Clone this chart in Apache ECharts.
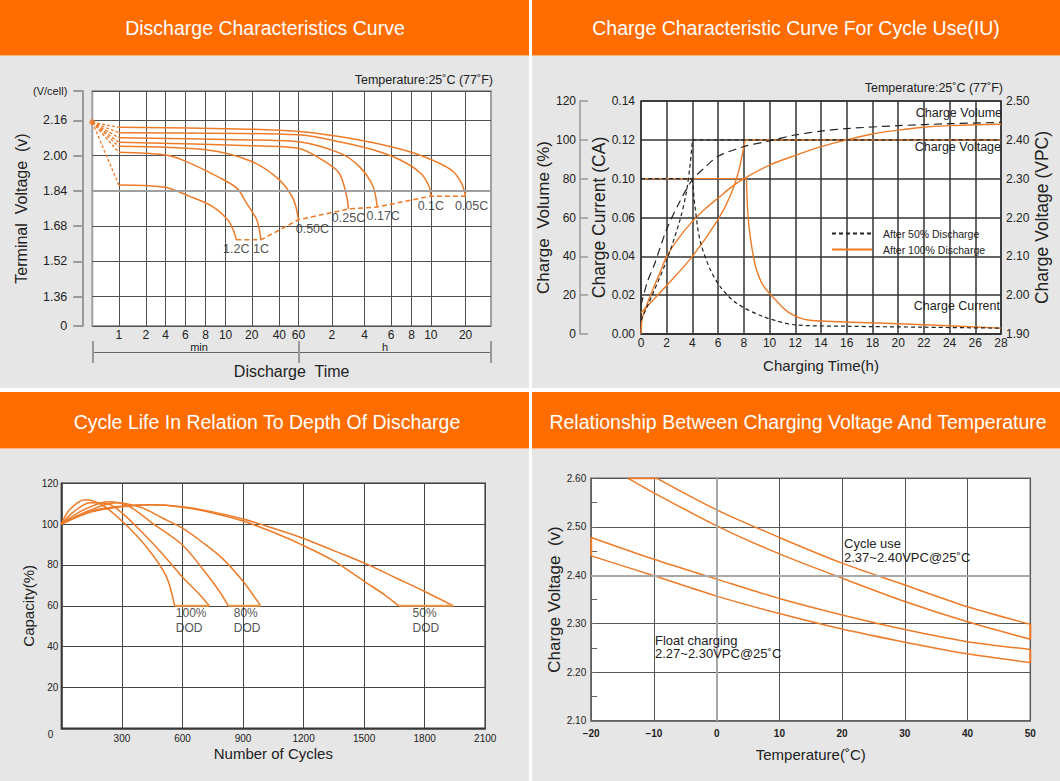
<!DOCTYPE html>
<html><head><meta charset="utf-8">
<script src="https://cdn.jsdelivr.net/npm/echarts@6/dist/echarts.min.js"></script>
<style>html,body{margin:0;padding:0;background:#e6e6e6}#c{width:1060px;height:781px}</style>
</head><body><div id="c"></div><script>
// ---------------- Panel 1: Discharge characteristics ----------------
const timeTickMinutes = [0,1,2,4,6,8,10,20,40,60,120,240,360,480,600,1200];
const timeTickLabels  = ['','1','2','4','6','8','10','20','40','60','2','4','6','8','10','20'];
const timeScaleUnits  = [0,1.00,2.02,2.77,3.51,4.28,5.03,6.02,7.06,7.78,9.04,10.28,11.28,12.05,12.78,14.09];
const timeScaleMax = 15.05;
const timeGroupLabels = ['min','h'];
const timeGroupUnits = [4.03, 11.05];
const timeGroupBounds = [0, 7.78, 15.05];
const voltTickValues = [1.2272,1.36,1.52,1.68,1.84,2.00,2.16,2.2928];
const voltTickLabels = ['0','1.36','1.52','1.68','1.84','2.00','2.16','(V/cell)'];
const dischargeRates = ['1.2C','1C','0.50C','0.25C','0.17C','0.1C','0.05C'];
const dischargeOrigin = [0, 2.151];
// [minutes, volts]
const d12C  = [[1,1.867],[3.8,1.857],[6.5,1.814],[8.7,1.769],[10.8,1.709],[13,1.66],[14.1,1.618]];
const d1C   = [[1,2.015],[4,2.003],[6,1.975],[9.4,1.90],[14.5,1.85],[18,1.784],[23.6,1.709],[26.7,1.618]];
const d050C = [[1,2.042],[8,2.026],[20,1.973],[40,1.89],[55,1.799],[60,1.709]];
const d025C = [[1,2.060],[20,2.045],[60,2.033],[103,1.98],[147,1.92],[172,1.829],[181,1.758]];
const d017C = [[1,2.081],[15,2.072],[60,2.063],[150,2.011],[221,1.95],[278,1.86],[297,1.767]];
const d01C  = [[1,2.104],[60,2.094],[147,2.063],[278,2.026],[414,1.98],[537,1.92],[589,1.86],[600,1.816]];
const d005C = [[1,2.128],[15,2.121],[60,2.109],[147,2.086],[355,2.041],[558,1.995],[952,1.935],[1129,1.875],[1200,1.816]];
const dischargeLabelShift = [[0,0],[0,0],[14,0],[0,0],[6,0],[0,0],[6,0]];

// ---------------- Panel 2: Charge characteristic ----------------
const currentTickValues = [0,0.02,0.04,0.06,0.10,0.12,0.14];
const currentTickLabels = ['0.00','0.02','0.04','0.06','0.10','0.12','0.14'];
const currentTickIndex  = [0,1,2,3,4,5,6];
// [hours, value]
const vol50  = [[0,15],[0.5,27],[1,35],[2,54],[3,68],[4,79.5],[5,86],[6,91.5],[8,96.5],[10,99.5],[12,102.5],[14,104.5],[16,105.8],[20,107.3],[24,108.3],[28,109]];
const volt50 = [[0,1.935],[1,2.01],[2,2.09],[3,2.19],[3.5,2.26],[3.8,2.33],[4,2.40],[28,2.40]];
const cur50  = [[0,0.10],[4,0.10],[4.2,0.071],[4.6,0.048],[5.4,0.033],[6.2,0.024],[7.4,0.016],[9.5,0.009],[12,0.0047],[16,0.004],[22,0.0035],[28,0.003]];
const vol100  = [[0,0],[0.1,8],[0.4,14],[0.8,21],[1.5,32],[2,40],[3,50],[4,58],[5,64.5],[6,70],[7,75.5],[8,80],[10,87],[12,92],[14,96.5],[16,100],[18,103],[20,105],[22,106.5],[24,107.3],[26,107.8],[28,108]];
const volt100 = [[0,1.955],[2,2.025],[4,2.10],[6,2.195],[7,2.26],[7.6,2.32],[8.1,2.40],[28,2.40]];
const cur100  = [[0,0.10],[8.2,0.10],[8.3,0.066],[8.5,0.05],[8.9,0.035],[9.5,0.025],[10.4,0.018],[11.5,0.011],[13,0.0072],[18,0.0058],[23,0.0045],[28,0.003]];
const legendNames = ['After 50% Discharge','After 100% Discharge'];

// ---------------- Panel 3: Cycle life ----------------
// [cycles, capacity %]
const cyc100a = [[0,100],[40,107],[116,112],[200,109.5],[300,101.5],[420,89],[520,74.3],[561,60]];
const cyc100b = [[0,100],[60,106],[140,110.5],[230,110],[300,105.5],[400,96],[500,85.5],[600,74],[680,66],[733,60]];
const cyc80a  = [[0,100],[100,106.5],[230,111],[330,109],[450,100.5],[600,89.8],[700,78],[780,67.5],[827,60]];
const cyc80b  = [[0,100],[120,106],[270,110.5],[400,108],[500,103],[600,98],[700,91],[800,83],[900,72],[987,60]];
const cyc50a  = [[0,100],[150,106.5],[300,108.8],[450,109.5],[600,108.3],[750,105.5],[900,101.5],[1050,96],[1200,89.5],[1350,82],[1500,72],[1600,65.5],[1671,60]];
const cyc50b  = [[0,100],[150,106],[300,108.5],[450,109.5],[600,108.5],[750,106],[900,102.5],[1050,98],[1200,93],[1350,87],[1500,81],[1650,74],[1800,67],[1942,60]];
const dodLabels = ['100%\nDOD','80%\nDOD','50%\nDOD'];
const dodLabelAnchor = [[567,60],[854,60],[1740,60]];

// ---------------- Panel 4: Charging voltage vs temperature ----------------
// [°C, V]
const cycleUpper = [[-9.5,2.60],[0,2.535],[10,2.478],[20,2.425],[30,2.38],[40,2.335],[50,2.299]];
const cycleLower = [[-14.1,2.60],[-10,2.57],[0,2.502],[10,2.444],[20,2.394],[30,2.346],[40,2.304],[50,2.268]];
const floatUpper = [[-20,2.478],[-10,2.433],[0,2.392],[10,2.352],[20,2.318],[30,2.288],[40,2.263],[50,2.247]];
const floatLower = [[-20,2.44],[-10,2.399],[0,2.357],[10,2.321],[20,2.289],[30,2.262],[40,2.238],[50,2.22]];

// ---------------- helpers ----------------
function interp(x, xs, ys) {
  const n = xs.length;
  if (x <= xs[0]) return ys[0];
  for (let i = 0; i < n - 1; i++) {
    if (x <= xs[i + 1]) return ys[i] + (x - xs[i]) / (xs[i + 1] - xs[i]) * (ys[i + 1] - ys[i]);
  }
  const i = n - 2;
  return ys[i] + (x - xs[i]) / (xs[i + 1] - xs[i]) * (ys[i + 1] - ys[i]);
}
function nearestIndex(v, arr) {
  let b = 0;
  for (let i = 1; i < arr.length; i++) if (Math.abs(arr[i] - v) < Math.abs(arr[b] - v)) b = i;
  return b;
}
const tMap = m => interp(m, timeTickMinutes, timeScaleUnits);
const cMap = v => interp(v, currentTickValues, currentTickIndex);
const last = a => a[a.length - 1];

const FONT = '"Liberation Sans", Arial, Helvetica, sans-serif';
const ORANGE = '#ee7b28';
const TXT = '#222';
const SMOOTH = 0.3;

const series = [];
// Panel 1
const dischargeSets = [d12C, d1C, d050C, d025C, d017C, d01C, d005C];
series.push({type:'line', xAxisIndex:0, yAxisIndex:0, data:[], z:1, silent:true,
  markLine:{silent:true, symbol:'none', label:{show:false}, animation:false,
    lineStyle:{color:'#a0a0a0', width:2, type:'solid'}, data:[{yAxis:1.84}]}});
dischargeSets.forEach(arr => {
  series.push({type:'line', xAxisIndex:0, yAxisIndex:0, symbol:'none', smooth:SMOOTH, z:3,
    lineStyle:{color:ORANGE, width:1.5}, data:arr.map(p => [tMap(p[0]), p[1]])});
  series.push({type:'line', xAxisIndex:0, yAxisIndex:0, symbol:'none', z:3,
    lineStyle:{color:ORANGE, width:1.3, type:[3,2]},
    data:[[tMap(dischargeOrigin[0]), dischargeOrigin[1]], [tMap(arr[0][0]), arr[0][1]]]});
});
series.push({type:'line', xAxisIndex:0, yAxisIndex:0, symbol:'none', z:3,
  lineStyle:{color:ORANGE, width:1.5, type:[5,3]},
  data:dischargeSets.map(a => [tMap(last(a)[0]), last(a)[1]])});
series.push({type:'scatter', xAxisIndex:0, yAxisIndex:0, symbolSize:6, z:4, itemStyle:{color:ORANGE},
  data:[[tMap(dischargeOrigin[0]), dischargeOrigin[1]]]});
series.push({type:'scatter', xAxisIndex:0, yAxisIndex:0, symbolSize:0, z:5, silent:true,
  data:dischargeSets.map((a, i) => ({value:[tMap(last(a)[0]), last(a)[1]],
    label:{show:true, position:'bottom', distance:3, offset:dischargeLabelShift[i], formatter:dischargeRates[i],
      fontSize:12.5, color:TXT, fontFamily:FONT}}))});

// Panel 2 (curves with a sharp corner are drawn as a smooth piece + straight piece)
function addLine(opts, data, cornerIdx) {
  if (cornerIdx == null) { series.push(Object.assign({data:data, smooth:SMOOTH}, opts)); return; }
  const a = data.slice(0, cornerIdx + 1), b = data.slice(cornerIdx);
  series.push(Object.assign({data:a, smooth:a.length > 2 ? SMOOTH : false}, opts));
  series.push(Object.assign({data:b, smooth:b.length > 2 ? SMOOTH : false}, opts));
}
const base2 = {type:'line', xAxisIndex:3, symbol:'none'};
const blackStyle = {color:'#222', width:1.2};
addLine(Object.assign({name:legendNames[0], yAxisIndex:3, z:4, lineStyle:Object.assign({type:[4,3]}, blackStyle), itemStyle:{color:'#222'}}, base2), volt50, 6);
addLine(Object.assign({name:legendNames[0], yAxisIndex:1, z:4, lineStyle:Object.assign({type:[8,5]}, blackStyle), itemStyle:{color:'#222'}}, base2), vol50);
addLine(Object.assign({name:legendNames[0], yAxisIndex:2, z:4, lineStyle:Object.assign({type:[4,3]}, blackStyle), itemStyle:{color:'#222'}}, base2), cur50.map(p => [p[0], cMap(p[1])]), 1);
addLine(Object.assign({name:legendNames[1], yAxisIndex:1, z:3, lineStyle:{color:ORANGE, width:1.4}, itemStyle:{color:ORANGE}}, base2), vol100);
addLine(Object.assign({name:legendNames[1], yAxisIndex:3, z:3, lineStyle:{color:ORANGE, width:1.4}, itemStyle:{color:ORANGE}}, base2), volt100, 6);
addLine(Object.assign({name:legendNames[1], yAxisIndex:2, z:3, lineStyle:{color:ORANGE, width:1.4}, itemStyle:{color:ORANGE}}, base2), cur100.map(p => [p[0], cMap(p[1])]), 1);

// Panel 3
const cycleSets = [cyc100a, cyc100b, cyc80a, cyc80b, cyc50a, cyc50b];
cycleSets.forEach(arr => series.push({type:'line', xAxisIndex:4, yAxisIndex:4, symbol:'none', smooth:SMOOTH,
  lineStyle:{color:ORANGE, width:1.5}, data:arr}));
for (let k = 0; k < 3; k++) {
  series.push({type:'line', xAxisIndex:4, yAxisIndex:4, symbol:'none', lineStyle:{color:'#f59a45', width:2},
    data:[last(cycleSets[2*k]), last(cycleSets[2*k+1])]});
}
series.push({type:'scatter', xAxisIndex:4, yAxisIndex:4, symbolSize:0, silent:true, z:5,
  data:dodLabelAnchor.map((p, i) => ({value:p, label:{show:true, position:[0,0], align:'left', verticalAlign:'top',
    formatter:dodLabels[i], fontSize:12, lineHeight:15, color:TXT, fontFamily:FONT}}))});

// Panel 4
series.push({type:'line', xAxisIndex:5, yAxisIndex:5, data:[], z:1, silent:true,
  markLine:{silent:true, symbol:'none', label:{show:false}, animation:false,
    lineStyle:{color:'#a8a8a8', width:2, type:'solid'}, data:[{yAxis:2.40},{xAxis:0}]}});
[cycleUpper, cycleLower, floatUpper, floatLower].forEach(arr => series.push({type:'line', xAxisIndex:5, yAxisIndex:5,
  symbol:'none', smooth:SMOOTH, lineStyle:{color:ORANGE, width:1.5}, data:arr}));
[[cycleLower[0], cycleUpper[0]], [last(cycleLower), last(cycleUpper)], [floatLower[0], floatUpper[0]], [last(floatLower), last(floatUpper)]]
  .forEach(seg => series.push({type:'line', xAxisIndex:5, yAxisIndex:5, symbol:'none', lineStyle:{color:ORANGE, width:2}, data:seg}));

// ---------------- axes ----------------
const axisText = {color:TXT, fontFamily:FONT};
const xAxis = [
  {gridIndex:0, type:'value', min:0, max:timeScaleMax,
    axisLine:{show:false, onZero:false}, axisTick:{show:false, customValues:timeScaleUnits.slice(1)},
    axisLabel:Object.assign({customValues:timeScaleUnits.slice(1), margin:3, fontSize:12, lineHeight:12,
      formatter:v => timeTickLabels[nearestIndex(v, timeScaleUnits)]}, axisText),
    splitLine:{show:true, lineStyle:{color:'#505050', width:1}},
    name:'Discharge  Time', nameLocation:'middle', nameGap:37, nameTextStyle:Object.assign({fontSize:16}, axisText)},
  {gridIndex:0, type:'value', min:0, max:timeScaleMax, position:'bottom', offset:26,
    axisLine:{show:true, onZero:false, lineStyle:{color:'#666', width:1}},
    axisTick:{show:true, inside:true, length:11, customValues:timeGroupBounds, lineStyle:{color:'#999', width:2}},
    axisLabel:Object.assign({show:true, inside:true, margin:0, fontSize:11, lineHeight:11, customValues:timeGroupUnits,
      formatter:v => timeGroupLabels[nearestIndex(v, timeGroupUnits)]}, axisText),
    splitLine:{show:false}},
  {gridIndex:0, type:'value', min:0, max:timeScaleMax, position:'bottom', offset:26,
    axisLine:{show:false, onZero:false},
    axisTick:{show:true, inside:false, length:11, customValues:timeGroupBounds, lineStyle:{color:'#999', width:2}},
    axisLabel:{show:false}, splitLine:{show:false}},
  {gridIndex:1, type:'value', min:0, max:28, interval:2,
    axisLine:{show:true, onZero:false, lineStyle:{color:'#333', width:1.5}}, axisTick:{show:false},
    axisLabel:Object.assign({margin:3, fontSize:12}, axisText),
    splitLine:{show:true, lineStyle:{color:'#333', width:1.5}},
    name:'Charging Time(h)', nameLocation:'middle', nameGap:24, nameTextStyle:Object.assign({fontSize:15}, axisText)},
  {gridIndex:2, type:'value', min:0, max:2100, interval:300,
    axisLine:{show:true, onZero:false, lineStyle:{color:'#333', width:1.5}}, axisTick:{show:false},
    axisLabel:Object.assign({margin:5, fontSize:10, formatter:v => v === 0 ? '' : String(v)}, axisText),
    splitLine:{show:true, lineStyle:{color:'#444', width:1}},
    name:'Number of Cycles', nameLocation:'middle', nameGap:18, nameTextStyle:Object.assign({fontSize:15}, axisText)},
  {gridIndex:3, type:'value', min:-20, max:50, interval:10,
    axisLine:{show:true, onZero:false, lineStyle:{color:'#666', width:1.5}}, axisTick:{show:false},
    axisLabel:Object.assign({margin:8, fontSize:10, fontWeight:'bold', formatter:v => v < 0 ? '\u2212' + (-v) : String(v)}, axisText),
    splitLine:{show:true, lineStyle:{color:'#555', width:1}},
    name:'Temperature(\u02DAC)', nameLocation:'middle', nameGap:26, nameTextStyle:Object.assign({fontSize:15}, axisText)}
];
const yAxis = [
  {gridIndex:0, type:'value', min:voltTickValues[0], max:last(voltTickValues), position:'left', offset:10,
    axisLine:{show:true, onZero:false, lineStyle:{color:'#9a9a9a', width:2}},
    axisTick:{show:true, inside:false, length:9, customValues:voltTickValues, lineStyle:{color:'#9a9a9a', width:2}},
    axisLabel:Object.assign({customValues:voltTickValues, margin:15, fontSize:12.5,
      formatter:v => { const i = nearestIndex(v, voltTickValues); return i === voltTickValues.length - 1 ? '{s|' + voltTickLabels[i] + '}' : voltTickLabels[i]; },
      rich:{s:{fontSize:11, color:TXT, fontFamily:FONT}}}, axisText),
    splitLine:{show:true, lineStyle:{color:'#505050', width:1}},
    name:'Terminal  Voltage  (v)', nameLocation:'middle', nameRotate:90, nameGap:51, nameTextStyle:Object.assign({fontSize:16}, axisText)},
  {gridIndex:1, type:'value', min:0, max:120, interval:20, position:'left', offset:61,
    axisLine:{show:true, onZero:false, lineStyle:{color:'#999', width:1.5}},
    axisTick:{show:true, inside:true, length:8, lineStyle:{color:'#999', width:1.5}},
    axisLabel:Object.assign({margin:4, fontSize:12}, axisText),
    splitLine:{show:true, lineStyle:{color:'#333', width:1.5}},
    name:'Charge  Volume (%)', nameLocation:'middle', nameRotate:90, nameGap:23, nameTextStyle:Object.assign({fontSize:17}, axisText)},
  {gridIndex:1, type:'value', min:0, max:6, interval:1, position:'left', offset:0,
    axisLine:{show:false, onZero:false}, axisTick:{show:false},
    axisLabel:Object.assign({margin:6, fontSize:12, formatter:v => currentTickLabels[Math.round(v)]}, axisText),
    splitLine:{show:false},
    name:'Charge Current (CA)', nameLocation:'middle', nameRotate:90, nameGap:31, nameTextStyle:Object.assign({fontSize:17.5}, axisText)},
  {gridIndex:1, type:'value', min:1.9, max:2.5, interval:0.1, position:'right', offset:0,
    axisLine:{show:false, onZero:false}, axisTick:{show:false},
    axisLabel:Object.assign({margin:5, fontSize:12, formatter:v => v.toFixed(2)}, axisText),
    splitLine:{show:false},
    name:'Charge Voltage (VPC)', nameLocation:'middle', nameRotate:90, nameGap:25, nameTextStyle:Object.assign({fontSize:17.5}, axisText)},
  {gridIndex:2, type:'value', min:0, max:120, interval:20, position:'left',
    axisLine:{show:true, onZero:false, lineStyle:{color:'#333', width:1.5}}, axisTick:{show:false},
    axisLabel:Object.assign({margin:3, fontSize:10, formatter:v => v === 0 ? '{z|0}' : String(v),
      rich:{z:{fontSize:10, color:TXT, fontFamily:FONT, padding:[12,5,0,0]}}}, axisText),
    splitLine:{show:true, lineStyle:{color:'#444', width:1}},
    name:'Capacity(%)', nameLocation:'middle', nameRotate:90, nameGap:25, nameTextStyle:Object.assign({fontSize:15}, axisText)},
  {gridIndex:3, type:'value', min:2.1, max:2.6, interval:0.1, position:'left',
    axisLine:{show:true, onZero:false, lineStyle:{color:'#666', width:1.5}},
    axisTick:{show:true, inside:true, length:6, lineStyle:{color:'#666'}},
    minorTick:{show:true, splitNumber:2, length:6, lineStyle:{color:'#666'}},
    axisLabel:Object.assign({margin:5, fontSize:10, formatter:v => v.toFixed(2)}, axisText),
    splitLine:{show:true, lineStyle:{color:'#555', width:1}},
    name:'Charge Voltage  (v)', nameLocation:'middle', nameRotate:90, nameGap:27, nameTextStyle:Object.assign({fontSize:17}, axisText)}
];

// ---------------- static texts & panel decoration ----------------
function txt(x, y, s, size, color, align) {
  return {type:'text', x:x, y:y, z:100, silent:true,
    style:{text:s, fill:color, font:size + 'px ' + FONT, textAlign:align, align:align, textVerticalAlign:'middle', verticalAlign:'middle'}};
}
const HEAD = '#ff6c00';
const graphicEls = [
  {type:'rect', z:-1, shape:{x:0, y:0, width:529, height:55}, style:{fill:HEAD}},
  {type:'rect', z:-1, shape:{x:532, y:0, width:528, height:55}, style:{fill:HEAD}},
  {type:'rect', z:-1, shape:{x:0, y:55, width:529, height:1}, style:{fill:'#ffb57f'}},
  {type:'rect', z:-1, shape:{x:532, y:55, width:528, height:1}, style:{fill:'#ffb57f'}},
  {type:'rect', z:-1, shape:{x:0, y:392, width:529, height:56}, style:{fill:HEAD}},
  {type:'rect', z:-1, shape:{x:532, y:392, width:528, height:56}, style:{fill:HEAD}},
  {type:'rect', z:-1, shape:{x:0, y:448, width:529, height:1}, style:{fill:'#ffb57f'}},
  {type:'rect', z:-1, shape:{x:532, y:448, width:528, height:1}, style:{fill:'#ffb57f'}},
  {type:'rect', z:-1, shape:{x:529, y:0, width:3, height:781}, style:{fill:'#ffffff'}},
  {type:'rect', z:-1, shape:{x:0, y:388, width:1060, height:4}, style:{fill:'#ffffff'}},
  txt(265, 28, 'Discharge Characteristics Curve', 19.5, '#fff', 'center'),
  txt(796, 28, 'Charge Characteristic Curve For Cycle Use(IU)', 19.5, '#fff', 'center'),
  txt(267, 422, 'Cycle Life In Relation To Depth Of Discharge', 19.5, '#fff', 'center'),
  txt(798, 422, 'Relationship Between Charging Voltage And Temperature', 19.5, '#fff', 'center'),
  txt(493, 80, 'Temperature:25\u02DAC (77\u02DAF)', 12.5, TXT, 'right'),
  txt(1003, 88, 'Temperature:25\u02DAC (77\u02DAF)', 12.5, TXT, 'right'),
  txt(1002, 113, 'Charge Volume', 12.5, TXT, 'right'),
  txt(1001, 147, 'Charge Voltage', 12.5, TXT, 'right'),
  txt(1000, 306, 'Charge Current', 12.5, TXT, 'right'),
  txt(844, 543, 'Cycle use', 13, TXT, 'left'),
  txt(844, 557, '2.37~2.40VPC@25\u02DAC', 13, TXT, 'left'),
  txt(655, 640, 'Float charging', 13, TXT, 'left'),
  txt(655, 653, '2.27~2.30VPC@25\u02DAC', 13, TXT, 'left')
];

const option = {
  backgroundColor:'#e6e6e6',
  animation:false,
  textStyle:{fontFamily:FONT, color:TXT},
  grid:[
    {left:92.3, top:91, width:398.7, height:235, containLabel:false, show:true, backgroundColor:'#fff', borderColor:'#a0a0a0', borderWidth:2},
    {left:641, top:101, width:360, height:233, containLabel:false, show:true, backgroundColor:'#fff', borderColor:'#333', borderWidth:1.5},
    {left:61.4, top:483.3, width:423.8, height:245, containLabel:false, show:true, backgroundColor:'#fff', borderColor:'#333', borderWidth:1.5},
    {left:591.2, top:478.3, width:439.1, height:242.4, containLabel:false, show:true, backgroundColor:'#fff', borderColor:'#666', borderWidth:1.5}
  ],
  xAxis:xAxis,
  yAxis:yAxis,
  legend:{data:legendNames, orient:'vertical', left:826, top:223, itemWidth:40, itemHeight:10, itemGap:5,
    selectedMode:false, itemStyle:{color:'rgba(0,0,0,0)', borderWidth:0, opacity:0},
    textStyle:{fontSize:10.5, color:TXT, fontFamily:FONT, padding:[0,0,0,6]}},
  graphic:{elements:graphicEls},
  series:series
};
const chart = echarts.init(document.getElementById('c'), null, {renderer:'svg', width:1060, height:781});
chart.setOption(option);
</script></body></html>
